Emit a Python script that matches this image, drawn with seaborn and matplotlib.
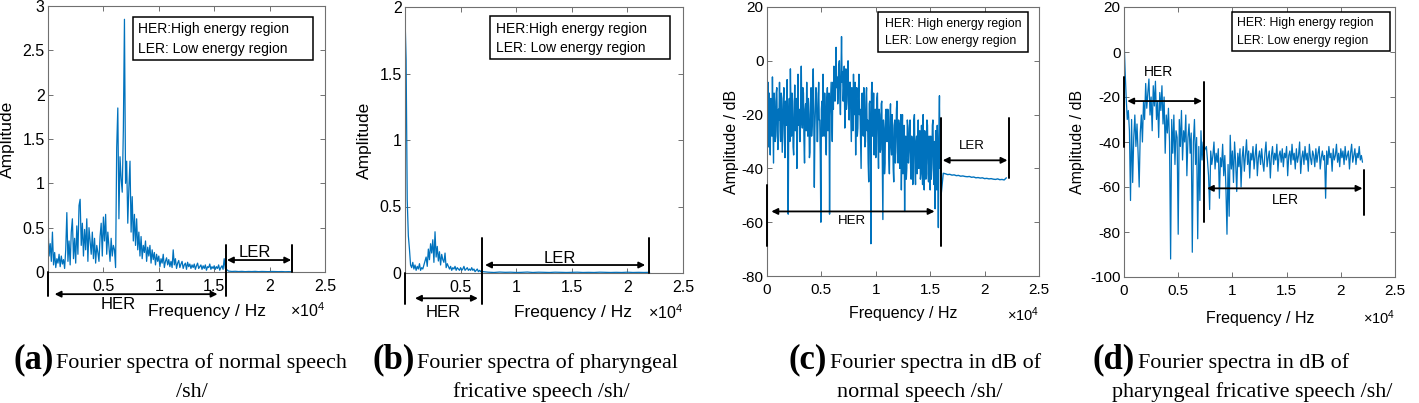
import numpy as np
import pandas as pd
import matplotlib
matplotlib.use("Agg")
import matplotlib.pyplot as plt
import seaborn as sns
from matplotlib.patches import Rectangle
from matplotlib.ticker import FixedLocator, FixedFormatter

# ---------------- data ----------------
# (a) normal speech /sh/, linear amplitude
freq_a_her = np.arange(0, 16001, 100)
amp_a_her = [
    0.50, 0.18, 0.32, 0.12, 0.45, 0.08, 0.22, 0.05, 0.15, 0.10, 0.20,
    0.06, 0.18, 0.09, 0.14, 0.04, 0.25, 0.67, 0.12, 0.35, 0.08,
    0.45, 0.60, 0.15, 0.38, 0.10, 0.52, 0.20, 0.75, 0.82, 0.30,
    0.55, 0.18, 0.48, 0.25, 0.60, 0.12, 0.50, 0.35, 0.20, 0.45,
    0.15, 0.38, 0.10, 0.30, 0.22, 0.12, 0.40, 0.55, 0.18, 0.62,
    0.35, 0.65, 0.20, 0.45, 0.28, 0.12, 0.38, 0.18, 0.30, 0.25,
    0.05, 1.40, 1.85, 0.60, 1.30, 1.05, 0.90, 1.60, 2.85, 1.00,
    1.25, 0.55, 0.95, 1.25, 0.45, 0.85, 0.35, 0.65, 0.30, 0.60,
    0.25, 0.45, 0.18, 0.40, 0.15, 0.30, 0.22, 0.35, 0.12, 0.28,
    0.18, 0.30, 0.10, 0.25, 0.14, 0.22, 0.08, 0.20, 0.12, 0.18,
    0.06, 0.15, 0.10, 0.20, 0.05, 0.12, 0.16, 0.08, 0.14, 0.06,
    0.12, 0.05, 0.25, 0.08, 0.15, 0.04, 0.10, 0.13, 0.05, 0.09,
    0.12, 0.04, 0.08, 0.10, 0.03, 0.11, 0.06, 0.09, 0.04, 0.08,
    0.05, 0.09, 0.03, 0.07, 0.10, 0.04, 0.06, 0.08, 0.03, 0.07,
    0.04, 0.08, 0.02, 0.06, 0.05, 0.09, 0.03, 0.06, 0.04, 0.07,
    0.03, 0.06, 0.04, 0.08, 0.02, 0.05, 0.07, 0.03, 0.15, 0.04,
]
freq_a_ler = np.arange(16300, 22001, 300)
amp_a_ler = [0.010, 0.006, 0.008, 0.005, 0.007, 0.004, 0.006, 0.005, 0.007, 0.004,
             0.006, 0.005, 0.004, 0.006, 0.005, 0.004, 0.005, 0.003, 0.004, 0.003]

# (b) pharyngeal fricative speech /sh/, linear amplitude
freq_b_her = np.arange(0, 7001, 100)
amp_b_her = [
    1.93, 1.60, 0.55, 0.28, 0.18, 0.06, 0.04, 0.08, 0.03, 0.06, 0.02,
    0.05, 0.03, 0.07, 0.02, 0.04, 0.03, 0.06, 0.09, 0.12, 0.05,
    0.18, 0.10, 0.22, 0.15, 0.25, 0.08, 0.31, 0.12, 0.20, 0.09,
    0.16, 0.06, 0.14, 0.10, 0.08, 0.15, 0.04, 0.07, 0.05, 0.03,
    0.05, 0.02, 0.04, 0.03, 0.05, 0.02, 0.04, 0.03, 0.02, 0.04,
    0.02, 0.03, 0.05, 0.02, 0.03, 0.04, 0.02, 0.03, 0.02, 0.04,
    0.02, 0.03, 0.01, 0.02, 0.03, 0.01, 0.02, 0.01, 0.02, 0.01,
]
freq_b_ler = np.arange(7500, 22001, 500)
amp_b_ler = [0.006, 0.004, 0.007, 0.005, 0.006, 0.004, 0.005, 0.007, 0.004, 0.006,
             0.005, 0.004, 0.006, 0.005, 0.004, 0.005, 0.006, 0.004, 0.005, 0.004,
             0.006, 0.005, 0.004, 0.005, 0.004, 0.006, 0.004, 0.005, 0.004, 0.005]

# (c) normal speech /sh/, dB
freq_c_her = np.arange(0, 16001, 50)
amp_c_her = [
    -6, -20, -8, -32, -12, -25, -35, -14, -18, -28, -6, -22, -38, -12, -15, -30, -28, -12, -10, -26, -33,
    -18, -22, -8, -26, -30, -12, -14, -34, -25, -16, -10, -28, -36, -15, -18, -24, -7, -30, -57, -20,
    -14, -30, -3, -18, -28, -12, -15, -32, -35, -20, -9, -26, -22, -14, -40, -18, -5, -24, -18, -30,
    -30, -16, -2, -22, -25, -10, -12, -30, -38, -18, -16, -26, -8, -20, -28, -14, -20, -36, -34, -16,
    -10, -28, -24, -12, -3, -20, -47, -25, -18, -10, -12, -30, -30, -16, -8, -22, -22, -35, -60, -18,
    -15, -28, -5, -20, -28, -12, -18, -32, -35, -14, -10, -26, -25, -12, -57, -20, -14, -8, -22, -30,
    -8, -18, -2, -12, -15, -4, 5, -10, -6, -16, -12, -2, 0, -14, -20, -6, 9, -8, -4, -15,
    -10, -2, -25, -12, -3, -18, -15, -5, 0, -16, -22, -8, -8, -20, -30, -10, -12, -26, -5, -18,
    -20, -8, -35, -15, -10, -28, -25, -12, -5, -20, -18, -30, -40, -14, -12, -26, -28, -10, -15, -32,
    -30, -14, -10, -26, -22, -38, -45, -16, -15, -30, -68, -12, -8, -28, -25, -12, -35, -20, -18, -36,
    -28, -14, -12, -30, -40, -18, -20, -34, -33, -16, -15, -38, -59, -22, -25, -42, -38, -20, -18, -30,
    -30, -18, -20, -36, -42, -22, -16, -32, -35, -20, -25, -40, -45, -24, -22, -38, -30, -18, -15, -34,
    -38, -22, -24, -40, -32, -20, -48, -30, -20, -42, -36, -24, -56, -30, -28, -44, -40, -22, -25, -38,
    -34, -24, -22, -40, -44, -28, -30, -46, -38, -22, -20, -40, -46, -30, -28, -42, -35, -22, -40, -30,
    -26, -44, -42, -24, -32, -46, -20, -36, -48, -26, -30, -44, -38, -22, -24, -42, -45, -28, -33, -48,
    -28, -44, -40, -24, -22, -38, -46, -30, -55, -26, -30, -48, -24, -36, -62, -28, -13, -40, -36, -50,
]
freq_c_ler = np.arange(16200, 22001, 200)
amp_c_ler = [-41.8, -42.0, -42.3, -42.2, -42.5, -42.4, -42.7, -42.6, -42.9, -42.8,
             -43.0, -43.1, -43.0, -43.3, -43.2, -43.5, -43.4, -43.6, -43.5, -43.8,
             -43.7, -43.9, -43.8, -44.0, -44.1, -43.9, -44.2, -44.1, -44.3, -43.5]

# (d) pharyngeal fricative speech /sh/, dB
freq_d_her = np.arange(0, 7401, 100)
amp_d_her = [
    6, -8, -20, -30, -26, -35, -66, -30, -58, -38, -28,
    -42, -32, -45, -60, -36, -28, -40, -22, -30, -14,
    -25, -18, -12, -28, -20, -35, -15, -24, -13, -30,
    -22, -38, -18, -26, -15, -32, -20, -45, -28, -36,
    -25, -40, -92, -30, -45, -28, -50, -35, -38, -81,
    -30, -42, -26, -48, -35, -40, -28, -55, -38, -32,
    -45, -36, -89, -40, -30, -50, -38, -83, -42, -66,
    -35, -48, -40, -44,
]
freq_d_ler = np.arange(7600, 22001, 100)
amp_d_ler = [
    -42, -48, -55, -70, -44, -50, -46, -40, -52, -45, -49,
    -43, -65, -47, -51, -41, -55, -46, -60, -81, -50,
    -73, -37, -52, -44, -58, -40, -49, -62, -45, -51,
    -43, -60, -47, -42, -53, -46, -39, -50, -44, -56,
    -45, -48, -42, -52, -46, -41, -55, -47, -44, -50,
    -43, -49, -53, -45, -40, -51, -47, -44, -56, -46,
    -42, -50, -45, -48, -41, -53, -46, -44, -49, -43,
    -51, -45, -47, -42, -55, -46, -44, -50, -41, -48,
    -45, -52, -43, -49, -46, -40, -54, -47, -44, -50,
    -42, -48, -45, -53, -41, -47, -50, -44, -46, -51,
    -43, -49, -45, -42, -52, -47, -44, -48, -46, -65,
    -44, -50, -42, -47, -45, -53, -43, -48, -46, -41,
    -49, -45, -51, -43, -47, -44, -50, -42, -48, -46,
    -44, -52, -45, -41, -49, -46, -43, -50, -45, -47,
    -42, -48, -46, -49,
]

x_tick_values = [0, 5000, 10000, 15000, 20000, 25000]
x_tick_labels_ab = ["", "0.5", "1", "1.5", "2", "2.5"]
x_tick_labels_cd = ["0", "0.5", "1", "1.5", "2", "2.5"]
legend_lines = ["HER:High energy region", "LER: Low energy region"]
legend_lines_db = ["HER: High energy region", "LER: Low energy region"]
captions = [
    ("(a)", "Fourier spectra of normal speech", "/sh/"),
    ("(b)", "Fourier spectra of pharyngeal", "fricative speech /sh/"),
    ("(c)", "Fourier spectra in dB of", "normal speech /sh/"),
    ("(d)", "Fourier spectra in dB of", "pharyngeal fricative speech /sh/"),
]

# ---------------- style ----------------
sns.set_theme(style="ticks")
plt.rcParams["font.family"] = ["Liberation Sans", "DejaVu Sans"]
plt.rcParams["mathtext.fontset"] = "custom"
plt.rcParams["mathtext.rm"] = "Liberation Sans"
plt.rcParams["mathtext.it"] = "Liberation Sans:italic"
plt.rcParams["text.color"] = "black"
plt.rcParams["axes.labelcolor"] = "black"

W, H = 1419, 403
fig = plt.figure(figsize=(W / 100, H / 100), dpi=100)
LINE = "#0072BD"
FRAME = "#707070"


def make_axes(px_left, px_right, px_top, px_bottom):
    return fig.add_axes([px_left / W, (H - px_bottom) / H,
                         (px_right - px_left) / W, (px_bottom - px_top) / H])


def style_axes(ax, xlabels, tick_fs, label_fs, ylabel, xlab_pos, ylab_pos, off_y):
    ax.set_xlim(0, 25000)
    ax.xaxis.set_major_locator(FixedLocator(x_tick_values))
    ax.xaxis.set_major_formatter(FixedFormatter(xlabels))
    for s in ax.spines.values():
        s.set_visible(True)
        s.set_color(FRAME)
        s.set_linewidth(0.8)
    ax.tick_params(direction="in", length=3.5, width=0.7, color=FRAME,
                   top=True, right=True, labelsize=tick_fs, labelcolor="black")
    ax.tick_params(axis="x", pad=5)
    ax.tick_params(axis="y", pad=2.5)
    ax.set_xlabel("Frequency / Hz", fontsize=label_fs, color="black")
    ax.set_ylabel(ylabel, fontsize=label_fs, color="black")
    ax.xaxis.label.set_va("center")
    ax.yaxis.label.set_va("center")
    ax.xaxis.set_label_coords(*xlab_pos)
    ax.yaxis.set_label_coords(*ylab_pos)
    ax.text(1.0, off_y, r"$\times\mathregular{10^{4}}$", transform=ax.transAxes,
            ha="right", va="center", fontsize=label_fs - 1, color="black")
    ax.set_facecolor("white")


def draw_line(ax, f, a, lw=0.9):
    df = pd.DataFrame({"freq": np.asarray(f, dtype=float), "amp": np.asarray(a, dtype=float)})
    sns.lineplot(data=df, x="freq", y="amp", ax=ax, color=LINE, linewidth=lw,
                 estimator=None, sort=False)


def vline(ax, x, y0, y1):
    ax.plot([x, x], [y0, y1], color="black", lw=1.4, clip_on=False, zorder=5)


def darrow(ax, x0, x1, y):
    ax.annotate("", xy=(x1, y), xytext=(x0, y),
                arrowprops=dict(arrowstyle="<|-|>", color="black", lw=1.3,
                                mutation_scale=9, shrinkA=0, shrinkB=0),
                annotation_clip=False, zorder=5)


def legend_box(ax, box, lines, text_x, ys, fs):
    x0, x1, y0, y1 = box
    ax.add_patch(Rectangle((x0, y0), x1 - x0, y1 - y0, transform=ax.transAxes,
                           facecolor="white", edgecolor="black", lw=1.1, zorder=6))
    for line, yy in zip(lines, ys):
        ax.text(text_x, yy, line, transform=ax.transAxes, fontsize=fs,
                ha="left", va="center", zorder=7, color="black")


# ---------------- panel (a) ----------------
ax_a = make_axes(48, 325, 6, 272)
draw_line(ax_a, np.concatenate([freq_a_her, freq_a_ler]), amp_a_her + amp_a_ler)
ax_a.set_ylim(0, 3)
ax_a.set_yticks([0, 0.5, 1, 1.5, 2, 2.5, 3])
ax_a.set_yticklabels(["0", "0.5", "1", "1.5", "2", "2.5", "3"])
style_axes(ax_a, x_tick_labels_ab, 11.5, 12.5, "Amplitude", (0.574, -0.148), (-0.148, 0.5), -0.147)
legend_box(ax_a, (0.307, 0.957, 0.797, 0.959), legend_lines, 0.325, (0.914, 0.840), 10)
vline(ax_a, 0, 0, -0.27)
darrow(ax_a, 600, 15300, -0.25)
ax_a.text(6300, -0.37, "HER", ha="center", va="center", fontsize=12)
vline(ax_a, 16100, 0.30, -0.27)
vline(ax_a, 22000, 0.30, 0.0)
darrow(ax_a, 16150, 21950, 0.135)
ax_a.text(18700, 0.225, "LER", ha="center", va="center", fontsize=12)

# ---------------- panel (b) ----------------
ax_b = make_axes(405, 683, 7, 273)
draw_line(ax_b, np.concatenate([freq_b_her, freq_b_ler]), amp_b_her + amp_b_ler)
ax_b.set_ylim(0, 2)
ax_b.set_yticks([0, 0.5, 1, 1.5, 2])
ax_b.set_yticklabels(["0", "0.5", "1", "1.5", "2"])
style_axes(ax_b, x_tick_labels_ab, 11.5, 12.5, "Amplitude", (0.604, -0.15), (-0.144, 0.5), -0.15)
legend_box(ax_b, (0.306, 0.953, 0.805, 0.966), legend_lines, 0.327, (0.917, 0.846), 10)
vline(ax_b, 0, 0, -0.23)
darrow(ax_b, 900, 6550, -0.19)
ax_b.text(3400, -0.30, "HER", ha="center", va="center", fontsize=12)
vline(ax_b, 6900, 0.26, -0.23)
vline(ax_b, 21900, 0.26, 0.0)
darrow(ax_b, 7200, 21600, 0.06)
ax_b.text(13900, 0.11, "LER", ha="center", va="center", fontsize=12)

# ---------------- panel (c) ----------------
ax_c = make_axes(767, 1039, 7, 276)
draw_line(ax_c, np.concatenate([freq_c_her, freq_c_ler]), amp_c_her + amp_c_ler, lw=1.0)
ax_c.set_ylim(-80, 20)
ax_c.set_yticks([-80, -60, -40, -20, 0, 20])
ax_c.set_yticklabels(["-80", "-60", "-40", "-20", "0", "20"])
style_axes(ax_c, x_tick_labels_cd, 11, 11.5, "Amplitude / dB", (0.5, -0.138), (-0.13, 0.5), -0.145)
legend_box(ax_c, (0.408, 0.96, 0.833, 0.981), legend_lines_db, 0.434, (0.937, 0.872), 8.8)
vline(ax_c, 0, -46, -69)
darrow(ax_c, 400, 15400, -56)
ax_c.text(7800, -59.5, "HER", ha="center", va="center", fontsize=9.5)
vline(ax_c, 16000, -21.4, -69)
vline(ax_c, 22200, -21.4, -43.5)
darrow(ax_c, 16150, 22100, -37)
ax_c.text(18800, -31.7, "LER", ha="center", va="center", fontsize=9.5)

# ---------------- panel (d) ----------------
ax_d = make_axes(1124, 1395, 7, 277)
draw_line(ax_d, np.concatenate([freq_d_her, freq_d_ler]), amp_d_her + amp_d_ler)
ax_d.set_ylim(-100, 20)
ax_d.set_yticks([-100, -80, -60, -40, -20, 0, 20])
ax_d.set_yticklabels(["-100", "-80", "-60", "-40", "-20", "0", "20"])
style_axes(ax_d, x_tick_labels_cd, 11, 11.5, "Amplitude / dB", (0.502, -0.152), (-0.173, 0.5), -0.152)
legend_box(ax_d, (0.399, 0.982, 0.837, 0.981), legend_lines_db, 0.416, (0.94, 0.874), 8.8)
vline(ax_d, 0, -11, -42)
darrow(ax_d, 300, 7200, -21.8)
ax_d.text(3200, -8.7, "HER", ha="center", va="center", fontsize=10)
vline(ax_d, 7350, -13.2, -75.4)
vline(ax_d, 22100, -52.4, -72.4)
darrow(ax_d, 7650, 22000, -60.6)
ax_d.text(14900, -65.8, "LER", ha="center", va="center", fontsize=10)

# ---------------- captions ----------------
fig.canvas.draw()
renderer = fig.canvas.get_renderer()
cap_x = [13, 372, 789, 1093]
cap_x2 = [192, 541, 920, 1252]
y1 = (H - 368) / H
y2 = (H - 397) / H
for (lab, l1, l2), xs, x2 in zip(captions, cap_x, cap_x2):
    t = fig.text(xs / W, y1, lab, fontsize=25, fontweight="bold",
                 family="Liberation Serif", va="baseline", ha="left", color="black")
    bb = t.get_window_extent(renderer)
    fig.text((bb.x1 + 3) / W, y1, l1, fontsize=15.9, family="Liberation Serif",
             va="baseline", ha="left", color="black")
    fig.text(x2 / W, y2, l2, fontsize=15.9, family="Liberation Serif",
             va="baseline", ha="center", color="black")

fig.savefig("out.png", dpi=100)
